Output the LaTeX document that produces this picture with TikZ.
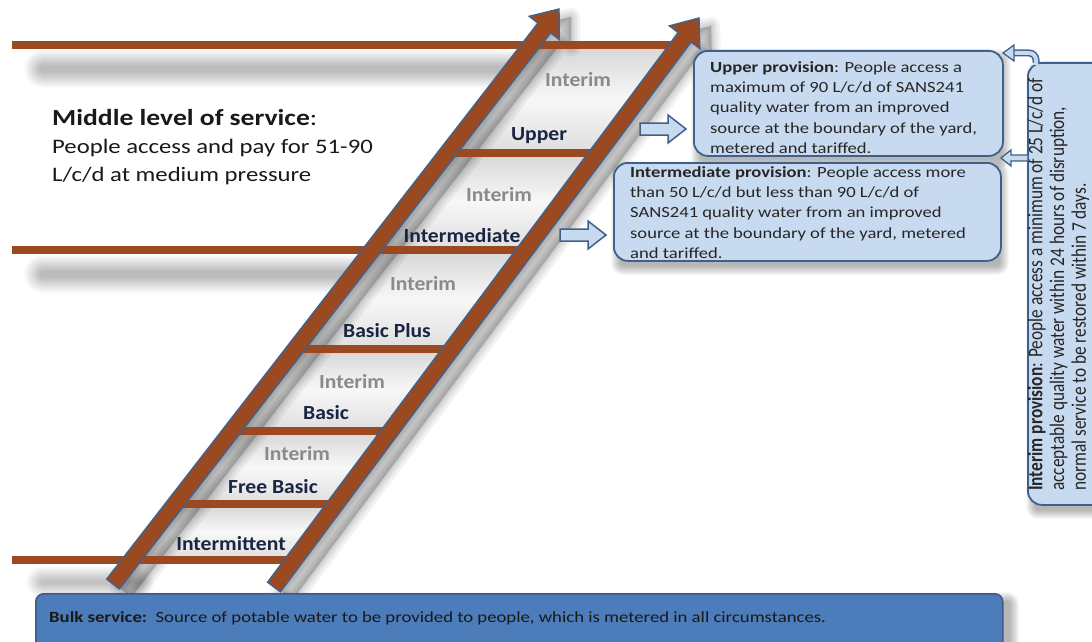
\documentclass[tikz,border=0pt]{standalone}
\usepackage{fontspec}
\setmainfont{Carlito}
\newfontfamily\wide{Carlito}[FakeStretch=1.2]
\newfontfamily\labfont{Carlito}[FakeStretch=1.08]
\usetikzlibrary{calc}
\definecolor{ladderbrown}{RGB}{155,73,33}
\definecolor{railblue}{RGB}{62,98,145}
\definecolor{boxfill}{RGB}{200,218,239}
\definecolor{boxborder}{RGB}{63,96,140}
\definecolor{bulkfill}{RGB}{76,124,185}
\definecolor{bulkborder}{RGB}{58,92,140}
\definecolor{labdark}{RGB}{25,37,66}
\definecolor{labgray}{RGB}{138,138,138}
% rail polygon: #1 style, #2 bottom, #3 tip
\newcommand\railpath[3]{%
  \path ($(#3)!24pt!(#2)$) coordinate (hb);
  \path[#1] ($(#2)!8pt!90:(#3)$) -- ($(hb)!8pt!90:(#3)$) -- ($(hb)!19pt!90:(#3)$) -- (#3)
     -- ($(hb)!19pt!-90:(#3)$) -- ($(hb)!8pt!-90:(#3)$) -- ($(#2)!8pt!-90:(#3)$) -- cycle;
}
% soft shadow of a rectangle: x1 y1 x2 y2 opacity steps
\newcommand\softrect[6]{%
  \foreach \k in {0,...,#6}{%
    \fill[black, opacity=#5, rounded corners={(\k+3)*1pt}] ({#1-\k},{#2-\k}) rectangle ({#3+\k},{#4+\k});
  }%
}
\begin{document}
\begin{tikzpicture}[x=1pt,y=-1pt,
  bar/.style={fill=ladderbrown},
  railst/.style={fill=ladderbrown, draw=railblue, line width=1.4pt, line join=miter},
  railshadow/.style={draw=black, draw opacity=0.05, fill=black, fill opacity=0.05, line join=round},
  cell/.style={top color=gray!32, bottom color=gray!26, middle color=gray!6},
  lab/.style={font=\labfont\fontsize{20}{22}\selectfont\bfseries, text=labdark, inner sep=0pt},
  labi/.style={font=\labfont\fontsize{20}{22}\selectfont\bfseries, text=labgray, inner sep=0pt},
  infobox/.style={draw=boxborder, line width=1.8pt, fill=boxfill, rounded corners=14pt, inner sep=0pt},
  boxtext/.style={font=\wide\fontsize{15.5}{20.4}\selectfont, align=left, inner sep=0pt, text=black!85},
  blockarrow/.style={draw=boxborder, fill=boxfill, line width=1.5pt, line join=miter}
]
\useasboundingbox (0,0) rectangle (1092,642);
\fill[white] (0,0) rectangle (1092,642);

% ladder geometry
\coordinate (B1) at (113,584);
\coordinate (T1) at (559,9);
\coordinate (B2) at (274,587);
\coordinate (T2) at (699,18);
\coordinate (B1s) at (125,592);
\coordinate (T1s) at (571,17);
\coordinate (B2s) at (286,595);
\coordinate (T2s) at (711,26);

% shadows of the long lines
\softrect{40}{66}{540}{72}{0.017}{16}
\softrect{40}{271}{380}{277}{0.017}{16}
\softrect{40}{580}{140}{584}{0.017}{14}

% cells (grey background between rungs)
\fill[cell] (531,45) -- (676.6,45) -- (598.2,153) -- (449.7,153) -- cycle;
\fill[cell] (449.7,153) -- (598.2,153) -- (525.7,250) -- (372,250) -- cycle;
\fill[cell] (372,250) -- (525.7,250) -- (451.8,349) -- (295.2,349) -- cycle;
\fill[cell] (295.2,349) -- (451.8,349) -- (390.5,431) -- (231.6,431) -- cycle;
\fill[cell] (231.6,431) -- (390.5,431) -- (336,504) -- (175,504) -- cycle;
\fill[cell] (175,504) -- (336,504) -- (294.2,560) -- (131.6,560) -- cycle;

% rail shadows
\foreach \w in {18,12,7,3}{\railpath{railshadow, line width=\w pt}{B1s}{T1s}}
\foreach \w in {18,12,7,3}{\railpath{railshadow, line width=\w pt}{B2s}{T2s}}

% long lines and rungs
\path[bar] (12,41) rectangle (677,49);
\path[bar] (449,149) rectangle (598,157);
\path[bar] (12,246) rectangle (526,254);
\path[bar] (295,345) rectangle (452,353);
\path[bar] (231,427) rectangle (391,435);
\path[bar] (175,500) rectangle (336,508);
\path[bar] (12,556) rectangle (294,564);

% rails
\railpath{railst}{B1}{T1}
\railpath{railst}{B2}{T2}

% ladder labels
\node[labi] (i1) at (578,80) {Interim};
\node[lab] (up) at (539,136) {Upper};
\node[labi] (i2) at (499,195) {Interim};
\node[lab] (im) at (462,236) {Intermediate};
\node[labi] (i3) at (423,284) {Interim};
\node[lab] (bp) at (387,331) {Basic Plus};
\node[labi] (i4) at (352,382) {Interim};
\node[lab] (ba) at (326,413) {Basic};
\node[labi] (i5) at (297,454) {Interim};
\node[lab] (fb) at (273,487) {Free Basic};
\node[lab] (it) at (231,544) {Intermittent};

% middle level text
\node[anchor=north west, align=left, inner sep=0pt, font=\wide\fontsize{20.6}{28}\selectfont, text=black!90] (mid) at (52,109)
  {{\fontsize{23}{28}\selectfont\textbf{Middle level of service}:}\\People access and pay for 51-90\\L/c/d at medium pressure};

% info box shadows
\softrect{700}{58}{1002}{160}{0.03}{9}
\softrect{620}{170}{1000}{266}{0.03}{9}
\softrect{1035}{70}{1100}{510}{0.03}{9}

% info boxes
\node[infobox, anchor=north west, minimum width=309pt, minimum height=105pt] (upbox) at (693,50) {};
\node[boxtext, anchor=north west] (uptext) at (710,61)
  {\textbf{Upper provision}: People access a\\maximum of 90 L/c/d of SANS241\\quality water from an improved\\source at the boundary of the yard,\\metered and tariffed.};
\node[infobox, anchor=north west, minimum width=387pt, minimum height=98pt] (imbox) at (613,162) {};
\node[boxtext, anchor=north west] (imtext) at (630,166)
  {\textbf{Intermediate provision}: People access more\\than 50 L/c/d but less than 90 L/c/d of\\SANS241 quality water from an improved\\source at the boundary of the yard, metered\\and tariffed.};
\node[infobox, anchor=north west, minimum width=110pt, minimum height=442pt] (inbox) at (1027,62) {};
\node[rotate=90, anchor=north west, inner sep=0pt, text=black!85] (intext) at (1027,491)
  {\scalebox{1}[1.2]{\fontsize{17.3}{18.1}\selectfont\begin{tabular}{@{}l@{}}
  \textbf{Interim provision}: People access a minimum of 25 L/c/d of\\
  acceptable quality water within 24 hours of disruption,\\
  normal service to be restored within 7 days.\end{tabular}}};

% block arrows (ladder -> boxes)
\coordinate (a1) at (686,129);
\draw[blockarrow] (640,123) -- (668,123) -- (668,115) -- (a1) -- (668,143) -- (668,135) -- (640,135) -- cycle;
\coordinate (a2) at (606,235);
\draw[blockarrow] (560,229) -- (588,229) -- (588,221) -- (a2) -- (588,249) -- (588,241) -- (560,241) -- cycle;
% interim box -> boxes
\coordinate (a3) at (1001,158);
\draw[blockarrow, line width=1.3pt] (1028,155) -- (1011,155) -- (1011,150) -- (a3) -- (1011,166) -- (1011,161) -- (1028,161) -- cycle;
\coordinate (c0) at (1036,63);
\coordinate (c1) at (1014,53);
\draw[boxborder, line width=7pt] (c0) -- (1036,60) to[out=90,in=0] (1029,53) -- (c1);
\draw[boxfill, line width=4pt] ($(c0)+(0,2)$) -- (1036,60) to[out=90,in=0] (1029,53) -- ($(c1)+(-1,0)$);
\draw[boxborder, fill=boxfill, line width=1.3pt, line join=miter] (1014,45) -- (1003,53) -- (1014,61) -- cycle;

% bulk service box
\softrect{45}{601}{1010}{660}{0.03}{9}
\node[draw=bulkborder, fill=bulkfill, line width=1.5pt, rounded corners=8pt, anchor=north west,
  minimum width=967pt, minimum height=70pt, inner sep=0pt] (bulk) at (35,593) {};
\node[anchor=base west, inner sep=0pt, font=\wide\fontsize{15.6}{18}\selectfont, text=black!90] (bulktext) at (49,622)
  {\textbf{Bulk service:}\ \ Source of potable water to be provided to people, which is metered in all circumstances.};
\end{tikzpicture}
\end{document}
